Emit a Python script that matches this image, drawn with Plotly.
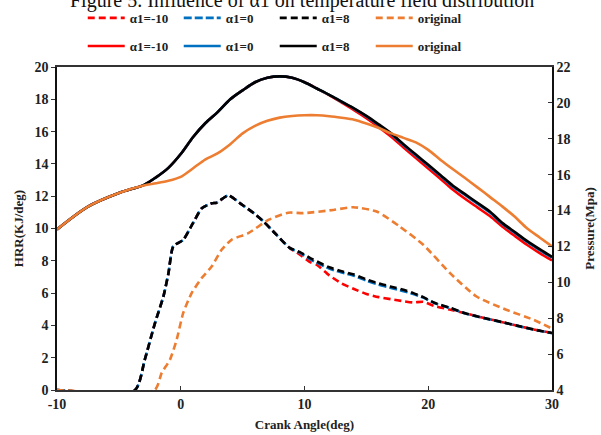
import plotly.graph_objects as go

# ---------------- data ----------------
# Pressure (right axis, MPa) - solid lines
p_angle = [-10, -7.5, -5, -3, -2, -1, 0, 1, 2, 3, 4, 5, 6, 7, 8, 9, 10, 11, 12, 13, 14, 15,
           16, 17, 18, 19, 20, 21, 22, 23, 24, 25, 26, 27, 28, 29, 30]
p_orig = [12.95, 14.22, 14.98, 15.40, 15.52, 15.66, 15.88, 16.36, 16.85, 17.2, 17.7, 18.3, 18.72,
          19.0, 19.18, 19.27, 19.31, 19.31, 19.26, 19.17, 19.06, 18.85, 18.6, 18.3, 18.05, 17.8,
          17.38, 16.82, 16.3, 15.8, 15.28, 14.75, 14.22, 13.65, 13.0, 12.5, 12.0]
p_a8 = [12.95, 14.22, 14.98, 15.42, 15.85, 16.38, 17.15, 18.1, 18.88, 19.5, 20.2, 20.7, 21.15,
        21.4, 21.48, 21.4, 21.15, 20.8, 20.45, 20.07, 19.7, 19.28, 18.8, 18.3, 17.7, 17.12,
        16.55, 15.97, 15.38, 14.9, 14.42, 13.93, 13.3, 12.8, 12.3, 11.85, 11.42]
p_a0 = [12.95, 14.22, 14.98, 15.42, 15.85, 16.38, 17.15, 18.1, 18.88, 19.5, 20.2, 20.7, 21.15,
        21.4, 21.48, 21.4, 21.15, 20.8, 20.45, 20.07, 19.68, 19.25, 18.76, 18.25, 17.65, 17.07,
        16.5, 15.92, 15.33, 14.85, 14.37, 13.88, 13.25, 12.75, 12.25, 11.8, 11.37]
p_am10 = [12.95, 14.22, 14.98, 15.42, 15.85, 16.38, 17.15, 18.1, 18.88, 19.5, 20.2, 20.7, 21.15,
          21.4, 21.48, 21.4, 21.15, 20.8, 20.43, 20.02, 19.6, 19.15, 18.65, 18.12, 17.52, 16.93,
          16.35, 15.76, 15.16, 14.64, 14.16, 13.68, 13.1, 12.58, 12.08, 11.63, 11.22]

# Heat release rate (left axis, KJ/deg) - dashed lines
h_angle = [-10, -3.7, -2.9, -2.1, -1.4, -1.0, -0.6, 0.2, 1.0, 1.7, 2.5, 2.9, 3.85, 4.8, 5.9,
           6.7, 7.75, 8.8, 9.6, 10.5, 11, 12, 13, 14, 15, 16, 17, 18, 18.8, 19.6, 20.5, 21.8,
           23, 24.5, 26, 27.2, 28.5, 30]
h_a8 = [0, 0, 1.9, 4.1, 5.8, 7.2, 8.9, 9.3, 10.35, 11.25, 11.56, 11.6, 12.05, 11.56, 10.95,
        10.43, 9.6, 8.8, 8.55, 8.15, 7.96, 7.6, 7.35, 7.15, 6.85, 6.6, 6.4, 6.2, 6.0, 5.75,
        5.4, 5.08, 4.75, 4.46, 4.2, 3.98, 3.75, 3.53]
h_a0 = [0, 0, 1.9, 4.1, 5.8, 7.2, 8.9, 9.3, 10.35, 11.25, 11.56, 11.6, 12.05, 11.56, 10.95,
        10.43, 9.6, 8.8, 8.5, 8.07, 7.88, 7.52, 7.27, 7.07, 6.77, 6.52, 6.32, 6.12, 5.94, 5.72,
        5.38, 5.06, 4.74, 4.45, 4.19, 3.97, 3.74, 3.52]
h_am10 = [0, 0, 1.9, 4.1, 5.8, 7.2, 8.9, 9.3, 10.35, 11.25, 11.56, 11.6, 12.05, 11.56, 10.95,
          10.43, 9.6, 8.8, 8.4, 7.9, 7.75, 7.1, 6.6, 6.25, 5.95, 5.75, 5.62, 5.5, 5.42, 5.46,
          5.2, 4.97, 4.75, 4.46, 4.2, 3.98, 3.75, 3.53]

o_angle = [-10, -2.1, -1.54, -0.87, -0.33, 0.2, 0.88, 1.69, 2.5, 3.3, 4.1, 5.46, 7.08, 8.69,
           9.9, 12.33, 13.94, 15.83, 17.7, 19.6, 21.76, 23.9, 26.3, 28.5, 30]
h_orig = [0, 0, 1.06, 1.88, 3.12, 4.77, 6.0, 6.93, 7.65, 8.68, 9.3, 9.71, 10.53, 10.98, 10.95,
          11.15, 11.32, 11.05, 10.12, 8.99, 7.24, 5.79, 4.97, 4.35, 3.8]

series_names = ["α1=-10", "α1=0", "α1=8", "original"]
x_ticks = [-10, 0, 10, 20, 30]
x_tick_text = ["-10", "0", "10", "20", "30"]

RED = "#FF0000"
BLUE = "#0070C0"
BLACK = "#000000"
ORANGE = "#ED7D31"
FONT = "Liberation Serif"

fig = go.Figure()

# dashed HRR traces (legend row 1)
dash_sets = [(h_angle, h_am10, RED, "7px,4px"), (h_angle, h_a0, BLUE, "8px,3px"),
             (h_angle, h_a8, BLACK, "7px,4px"), (o_angle, h_orig, ORANGE, "7px,4px")]
for name, (xs, ys, col, dsh) in zip(series_names, dash_sets):
    fig.add_trace(go.Scatter(x=xs, y=ys, mode="lines", name=name, legend="legend",
                             line=dict(color=col, width=2.6, dash=dsh, shape="spline", smoothing=0.6),
                             yaxis="y"))

# solid pressure traces (legend row 2)
solid_sets = [(p_am10, RED), (p_a0, BLUE), (p_a8, BLACK), (p_orig, ORANGE)]
for name, (ys, col) in zip(series_names, solid_sets):
    fig.add_trace(go.Scatter(x=p_angle, y=ys, mode="lines", name=name, legend="legend2",
                             line=dict(color=col, width=2.6, shape="spline", smoothing=0.8),
                             yaxis="y2"))

tickfont = dict(family=FONT, size=14, color="#222", weight="bold")
titlefont = dict(family=FONT, size=13, color="#222", weight="bold")
legfont = dict(family=FONT, size=13, color="#222", weight="bold")

fig.update_layout(
    width=601, height=435,
    margin=dict(l=57, r=49, t=67, b=45, autoexpand=False),
    paper_bgcolor="white", plot_bgcolor="white",
    showlegend=True,
    xaxis=dict(range=[-10, 30], tickvals=x_ticks, ticktext=x_tick_text, ticks="inside", ticklen=4,
               tickwidth=1, tickcolor="#333", showline=True, linecolor="#333", linewidth=1.5,
               mirror=True, showgrid=False, zeroline=False, tickfont=tickfont, automargin=False,
               title=dict(text="Crank Angle(deg)", font=titlefont, standoff=9)),
    yaxis=dict(range=[0, 20], dtick=2, ticks="outside", ticklen=4, tickwidth=1, tickcolor="#333",
               showline=True, linecolor="#111", linewidth=1.5, showgrid=False, zeroline=False,
               tickfont=tickfont, automargin=False,
               title=dict(text="HRR(KJ/deg)", font=titlefont, standoff=8)),
    yaxis2=dict(range=[4, 22], dtick=2, ticks="inside", ticklen=4, tickwidth=1, tickcolor="#333",
                overlaying="y", side="right", showline=True, linecolor="#111", linewidth=1.5,
                showgrid=False, zeroline=False, tickfont=tickfont, automargin=False,
                title=dict(text="Pressure(Mpa)", font=titlefont, standoff=15)),
    legend=dict(orientation="h", x=0.052, xanchor="left", y=1.152, yanchor="middle",
                font=legfont, entrywidth=44, entrywidthmode="pixels", itemwidth=37,
                bgcolor="rgba(0,0,0,0)", traceorder="normal"),
    legend2=dict(orientation="h", x=0.052, xanchor="left", y=1.065, yanchor="middle",
                 font=legfont, entrywidth=44, entrywidthmode="pixels", itemwidth=37,
                 bgcolor="rgba(0,0,0,0)", traceorder="normal"),
    annotations=[dict(text="Figure 5. Influence of α1 on temperature field distribution",
                      xref="paper", yref="paper", x=0.495, y=1.205, xanchor="center",
                      yanchor="middle", showarrow=False,
                      font=dict(family=FONT, size=20, color="#111"))],
)

# remove the default page margin so the figure sits at the window's top-left corner
fig.write_html("out.html", config={"displayModeBar": False},
               post_script="document.body.style.margin='0';")
